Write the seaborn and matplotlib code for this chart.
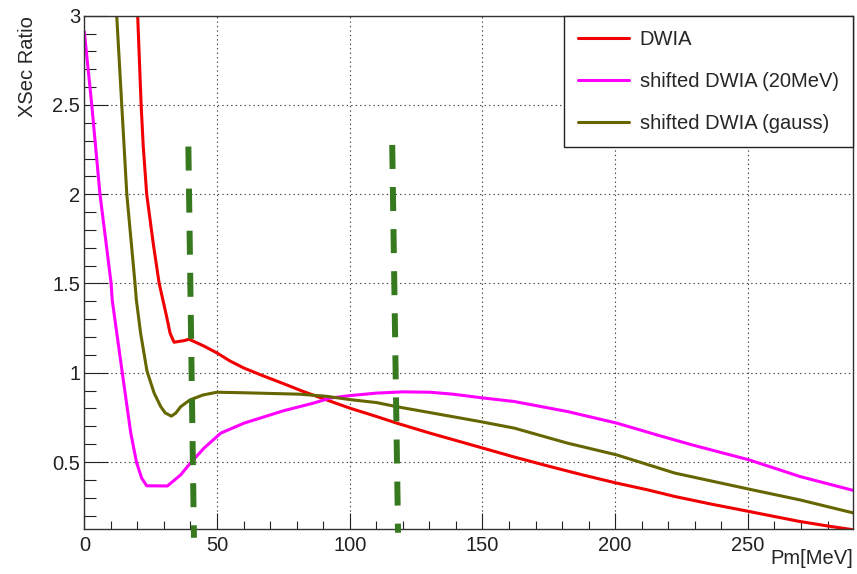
import numpy as np
import pandas as pd
import seaborn as sns
import matplotlib.pyplot as plt

# values
dwia_x = [20.1, 21.4, 22.2, 23.5, 26.0, 28.2, 29.6, 31.0, 32.3, 33.8, 37.6, 39.4, 45.0, 50.1, 55.0,
          60.2, 67.0, 75.2, 82.5, 91.3, 100.0, 110.1, 117.7, 130.2, 149.0, 162.0, 175.4, 188.0,
          200.6, 212.0, 222.5, 236.0, 250.5, 260.0, 269.6, 280.0, 290.0]
dwia_y = [3.0, 2.5, 2.267, 2.0, 1.72, 1.5, 1.408, 1.315, 1.222, 1.171, 1.18, 1.188, 1.15, 1.11, 1.065,
          1.026, 0.985, 0.938, 0.895, 0.848, 0.802, 0.755, 0.718, 0.662, 0.583, 0.528, 0.475, 0.427,
          0.382, 0.345, 0.307, 0.265, 0.223, 0.195, 0.167, 0.142, 0.12]

shift20_x = [0.0, 2.8, 5.9, 10.1, 10.5, 14.3, 17.5, 19.7, 21.6, 23.5, 31.3, 36.3, 40.1, 45.1, 51.4,
             60.2, 75.0, 86.3, 92.5, 100.0, 110.0, 120.0, 130.2, 139.0, 149.0, 162.0, 182.0, 200.6,
             215.7, 229.0, 250.5, 269.6, 290.0]
shift20_y = [2.91, 2.5, 2.0, 1.5, 1.408, 1.0, 0.662, 0.496, 0.41, 0.367, 0.366, 0.428, 0.497, 0.578, 0.662,
             0.718, 0.787, 0.83, 0.858, 0.872, 0.886, 0.893, 0.891, 0.88, 0.861, 0.839, 0.783, 0.718,
             0.652, 0.596, 0.512, 0.419, 0.34]

gauss_x = [12.2, 14.1, 16.0, 19.1, 19.6, 21.2, 23.6, 26.3, 28.8, 30.5, 32.8, 34.5, 36.3, 39.8, 44.8,
           50.0, 60.0, 81.2, 91.3, 100.0, 110.1, 117.7, 130.2, 149.0, 162.0, 182.0, 200.6, 222.5,
           250.5, 269.6, 290.0]
gauss_y = [3.0, 2.5, 2.0, 1.5, 1.408, 1.222, 1.01, 0.886, 0.81, 0.775, 0.757, 0.775, 0.81, 0.848, 0.876,
           0.891, 0.888, 0.88, 0.868, 0.85, 0.833, 0.81, 0.777, 0.727, 0.69, 0.606, 0.54, 0.438,
           0.348, 0.288, 0.214]

labels = ["DWIA", "shifted DWIA (20MeV)", "shifted DWIA (gauss)"]
colors = ["#f00000", "#ff00ff", "#666600"]

# the two vertical dashed cut lines (top / bottom ends)
cut_x_top = [39.2, 116.0]
cut_x_bot = [41.3, 118.2]
cut_y_top = [2.267, 2.276]
cut_y_bot = [0.076, 0.104]

df = pd.concat([
    pd.DataFrame({"Pm": dwia_x, "ratio": dwia_y, "curve": labels[0]}),
    pd.DataFrame({"Pm": shift20_x, "ratio": shift20_y, "curve": labels[1]}),
    pd.DataFrame({"Pm": gauss_x, "ratio": gauss_y, "curve": labels[2]}),
])

sns.set_theme(style="white")
plt.rcParams["font.family"] = ["Liberation Sans", "DejaVu Sans"]
plt.rcParams["lines.scale_dashes"] = False

fig = plt.figure(figsize=(8.57, 5.74), dpi=100)
ax = fig.add_axes([0.0984, 0.0784, 0.8966, 0.8943])

sns.lineplot(data=df, x="Pm", y="ratio", hue="curve", hue_order=labels,
             palette=colors, estimator=None, sort=False, linewidth=2.2, ax=ax)

for xt, xb, yt, yb in zip(cut_x_top, cut_x_bot, cut_y_top, cut_y_bot):
    ax.plot([xt, xb], [yt, yb], color="#37791f", linewidth=4.3,
            dashes=(17.3, 13.0), clip_on=False, zorder=5)

ax.set_xlim(0, 289.5)
ax.set_ylim(0.125, 3)
ax.set_xticks([0, 50, 100, 150, 200, 250])
ax.set_xticks(np.arange(10, 290, 10), minor=True)
ax.set_yticks([0.5, 1, 1.5, 2, 2.5, 3])
ax.set_yticks(np.arange(0.2, 3.0, 0.1), minor=True)
ax.yaxis.set_major_formatter(plt.FormatStrFormatter("%g"))

ax.grid(True, which="major", linestyle=(0, (1, 2.2)), color="#444444", linewidth=0.8)
ax.tick_params(axis="both", which="both", bottom=True, left=True, top=False, right=False)
ax.tick_params(axis="x", which="major", direction="in", length=11.5, width=0.8,
               labelsize=14.5, pad=5, colors="#222222")
ax.tick_params(axis="x", which="minor", direction="in", length=5.8, width=0.8, colors="#222222")
ax.tick_params(axis="y", which="major", direction="in", length=17.3, width=0.8,
               labelsize=14.5, pad=3, colors="#222222")
ax.tick_params(axis="y", which="minor", direction="in", length=8.6, width=0.8, colors="#222222")
for s in ax.spines.values():
    s.set_color("#333333")
    s.set_linewidth(1.0)

ax.set_xlabel("Pm[MeV]", fontsize=14.5, loc="right")
ax.set_ylabel("XSec Ratio", fontsize=14.5, loc="top")
ax.xaxis.set_label_coords(1.0, -0.038)
ax.yaxis.set_label_coords(-0.062, 1.0)

leg = ax.legend(loc="upper right", bbox_to_anchor=(1.0, 1.0), borderaxespad=0,
                fontsize=14.5, frameon=True, fancybox=False, framealpha=1,
                edgecolor="#222222", handlelength=2.54, handletextpad=0.53,
                borderpad=0.7, labelspacing=1.15)
leg.get_frame().set_linewidth(1.0)
for line in leg.get_lines():
    line.set_linewidth(2.2)

plt.savefig("out.png", dpi=100)
